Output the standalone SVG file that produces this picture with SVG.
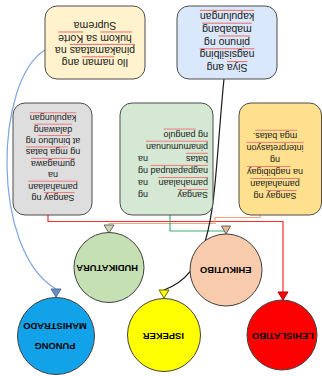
<svg xmlns="http://www.w3.org/2000/svg" width="322" height="376" viewBox="0 0 322 376">
<style>
.box{stroke:#4d4d4d;stroke-width:1}
.cir{stroke:#404040;stroke-width:1}
.t{font-family:"Liberation Sans",Arial,sans-serif;fill:#1a1a1a;text-anchor:middle;dominant-baseline:central}
.tt{font-size:10.5px}
.tm{font-size:9px}
.l{text-anchor:start}
.r{text-anchor:end}
.u{text-decoration:underline;fill:#f07070}
.k{fill:#1a1a1a}
.lbl{font-family:"Liberation Sans",Arial,sans-serif;font-weight:bold;font-size:9.4px;fill:#000;text-anchor:middle;dominant-baseline:central}
.ln{fill:none;stroke-width:1.2}
.ah{stroke-width:1}
</style>
<rect width="322" height="376" fill="#ffffff"/>
<g transform="rotate(180 161 188)">
<g id="connectors">
<path class="ln" d="M274 161 V154.5 H39 V84" stroke="#ff2a2a"/>
<path class="ln" d="M62 161 V158.5 H107 V152.5 H213 V151" stroke="#f5a27a"/>
<path class="ln" d="M152 161 V145 H96 V142" stroke="#3cb371"/>
<path class="ln" d="M277 326 C327 296 332 126 266 87" stroke="#7ea6e0"/>
<path class="ln" d="M98 297 C110 176 104 106 158 86" stroke="#1a1a1a"/>
<polygon class="ah" points="39,76 34,84 44,84" fill="#ff0000" stroke="#b30000"/>
<polygon class="ah" points="213,143 208,151 218,151" fill="#c8d6b0" stroke="#666666"/>
<polygon class="ah" points="96,142 91.5,150 100.5,150" fill="#e8b896" stroke="#666666"/>
<polygon class="ah" points="266,79 261,87 271,87" fill="#6c8ebf" stroke="#4a6fa5"/>
<polygon class="ah" points="158,78 153,86 163,86" fill="#ffff00" stroke="#666600"/>
</g>
<g id="box-korte">
<rect class="box" x="177" y="297" width="100" height="73" rx="12" fill="#fff2cc"/>
<text class="t tt" x="227" y="312.7">Ilo <tspan class="u"><tspan class="k">naman</tspan></tspan> ang</text>
<text class="t tt" x="227" y="325.1"><tspan class="u"><tspan class="k">pinakamataas</tspan></tspan> na</text>
<text class="t tt" x="227" y="337.5"><tspan class="u"><tspan class="k">hukom</tspan></tspan> sa <tspan class="u"><tspan class="k">Korte</tspan></tspan></text>
<text class="t tt" x="227" y="349.9">Suprema</text>
</g>
<g id="box-ispeker">
<rect class="box" x="45" y="297" width="100" height="73" rx="12" fill="#dae8fc"/>
<text class="t tt" x="95" y="307.9"><tspan class="u"><tspan class="k">Siya</tspan></tspan> ang</text>
<text class="t tt" x="95" y="320.7"><tspan class="u"><tspan class="k">nagsisilbing</tspan></tspan></text>
<text class="t tt" x="95" y="333.5"><tspan class="u"><tspan class="k">pinuno</tspan></tspan> ng</text>
<text class="t tt" x="95" y="346.3"><tspan class="u"><tspan class="k">mababang</tspan></tspan></text>
<text class="t tt" x="95" y="359.1"><tspan class="u"><tspan class="k">kapulungan</tspan></tspan></text>
</g>
<g id="box-lehislatibo">
<rect class="box" x="230" y="161" width="79" height="112" rx="12" fill="#dedede"/>
<text class="t tm" x="269" y="178"><tspan class="u"><tspan class="k">Sangay</tspan></tspan> ng</text>
<text class="t tm" x="269" y="189.4"><tspan class="u"><tspan class="k">pamahalaan</tspan></tspan></text>
<text class="t tm" x="269" y="200.8">na</text>
<text class="t tm" x="269" y="212.2"><tspan class="u"><tspan class="k">gumagawa</tspan></tspan></text>
<text class="t tm" x="269" y="223.6">ng <tspan class="u"><tspan class="k">mga batas</tspan></tspan></text>
<text class="t tm" x="269" y="235">at <tspan class="u"><tspan class="k">binubuo</tspan></tspan> ng</text>
<text class="t tm" x="269" y="246.4"><tspan class="u"><tspan class="k">dalawang</tspan></tspan></text>
<text class="t tm" x="269" y="257.8"><tspan class="u"><tspan class="k">kapulungan</tspan></tspan></text>
</g>
<g id="box-ehikutibo">
<rect class="box" x="109" y="161" width="93" height="112" rx="12" fill="#d5e8d4"/>
<text class="t tm l" x="114" y="181"><tspan class="u"><tspan class="k">Sangay</tspan></tspan></text><text class="t tm r" x="184" y="181">ng</text>
<text class="t tm l" x="114" y="193.1"><tspan class="u"><tspan class="k">pamahalaan</tspan></tspan></text><text class="t tm r" x="184" y="193.1">na</text>
<text class="t tm l" x="114" y="205.2"><tspan class="u"><tspan class="k">nagpapatupad</tspan></tspan></text><text class="t tm r" x="184" y="205.2">ng</text>
<text class="t tm l" x="114" y="217.3"><tspan class="u"><tspan class="k">batas</tspan></tspan></text><text class="t tm r" x="184" y="217.3">na</text>
<text class="t tm l" x="114" y="229.4"><tspan class="u"><tspan class="k">pinamumunuan</tspan></tspan></text>
<text class="t tm l" x="114" y="241.5">ng <tspan class="u"><tspan class="k">pangulo</tspan></tspan></text>
</g>
<g id="box-hudikatura">
<rect class="box" x="0.5" y="161" width="82.5" height="112" rx="12" fill="#ffe08f"/>
<text class="t tm" x="47" y="180"><tspan class="u"><tspan class="k">Sangay</tspan></tspan> ng</text>
<text class="t tm" x="47" y="192"><tspan class="u"><tspan class="k">pamahalaan</tspan></tspan></text>
<text class="t tm" x="47" y="204.1">na <tspan class="u"><tspan class="k">nagbibigay</tspan></tspan></text>
<text class="t tm" x="47" y="216.1">ng</text>
<text class="t tm" x="47" y="228.2"><tspan class="u"><tspan class="k">interpretasyon</tspan></tspan></text>
<text class="t tm" x="47" y="240.3"><tspan class="u"><tspan class="k">mga batas</tspan></tspan>.</text>
</g>
<g id="node-hudikatura">
<circle class="cir" cx="213" cy="108.5" r="35" fill="#c5e0b3"/>
<text class="lbl" x="214.8" y="108">HUDIKATURA</text>
</g>
<g id="node-ehikutibo">
<circle class="cir" cx="96" cy="106" r="36" fill="#f8cbad"/>
<text class="lbl" x="96.2" y="106">EHIKUTIBO</text>
</g>
<g id="node-punong-mahistrado">
<circle class="cir" cx="266" cy="40" r="38.5" fill="#12a2ea"/>
<text class="lbl" x="267" y="29.3">PUNONG</text>
<text class="lbl" x="267" y="49.3">MAHISTRADO</text>
</g>
<g id="node-ispeker">
<circle class="cir" cx="158" cy="41" r="36.5" fill="#ffff00"/>
<text class="lbl" x="158.7" y="39.3">ISPEKER</text>
</g>
<g id="node-lehislatibo">
<circle class="cir" cx="40" cy="41" r="35" fill="#ff0000"/>
<text class="lbl" x="39.2" y="39.3">LEHISLATIBO</text>
</g>
</g>
</svg>
